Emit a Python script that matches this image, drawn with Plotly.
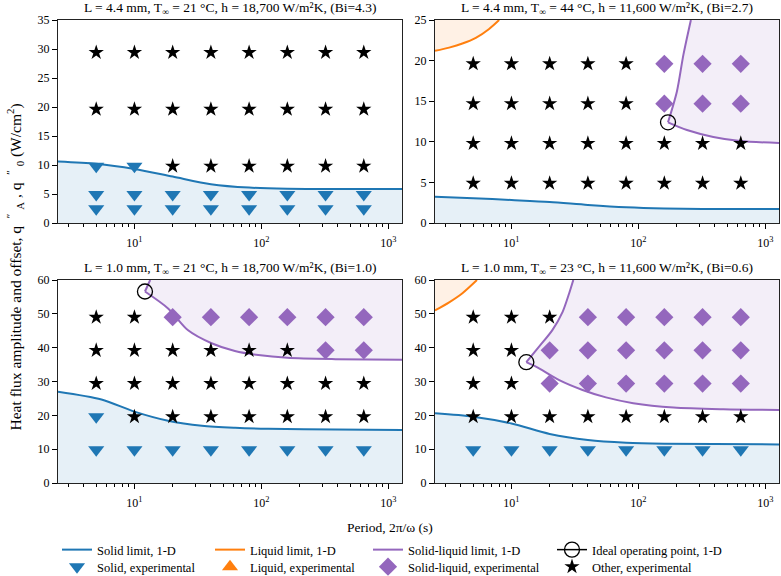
import math
import plotly.graph_objects as go

# ---------------- data ----------------
periods = [5, 10, 20, 40, 80, 160, 320, 640]

titles = [
    "L = 4.4 mm, T<sub>∞</sub> = 21 °C, h = 18,700 W/m²K, (Bi=4.3)",
    "L = 4.4 mm, T<sub>∞</sub> = 44 °C, h = 11,600 W/m²K, (Bi=2.7)",
    "L = 1.0 mm, T<sub>∞</sub> = 21 °C, h = 18,700 W/m²K, (Bi=1.0)",
    "L = 1.0 mm, T<sub>∞</sub> = 23 °C, h = 11,600 W/m²K, (Bi=0.6)",
]

# experimental states: S solid, L liquid, M solid-liquid, O other
A_levels = [2.45, 4.9, 9.8, 19.6, 29.4]
A_states = ["SSSSSSSS", "SSSSSSSS", "SSOOOOOO", "OOOOOOOO", "OOOOOOOO"]
B_levels = [4.9, 9.8, 14.7, 19.6]
B_states = ["OOOOOOOO", "OOOOOOOO", "OOOOOMMM", "OOOOOMMM"]
C_levels = [9.8, 19.6, 29.4, 39.2, 49.0]
C_states = ["SSSSSSSS", "SOOOOOOO", "OOOOOOOO", "OOOOOOMM", "OOMMMMMM"]
D_levels = [9.8, 19.6, 29.4, 39.2, 49.0]
D_states = ["SSSSSSSS", "OOOOOOOO", "OOMMMMMM", "OOMMMMMM", "OOOMMMMM"]

# solid limit curves
A_solid_x = [2.5, 5, 10, 20, 40, 80, 160, 320, 640, 1280]
A_solid_y = [10.6, 10.2, 9.3, 8.0, 6.7, 6.1, 5.9, 5.85, 5.85, 5.85]
B_solid_x = [2.5, 5, 10, 20, 40, 80, 160, 320, 640, 1280]
B_solid_y = [3.24, 3.05, 2.83, 2.59, 2.22, 1.93, 1.78, 1.73, 1.72, 1.72]
C_solid_x = [2.5, 5.5, 10, 18.4, 34, 62, 113, 383, 1280]
C_solid_y = [27.0, 24.7, 21.1, 18.4, 16.9, 16.3, 16.0, 15.8, 15.7]
D_solid_x = [2.5, 5, 10, 20, 40, 80, 160, 1280]
D_solid_y = [20.6, 19.6, 17.6, 14.5, 12.7, 11.9, 11.6, 11.4]

# liquid limit curves
B_liq_x = [2.5, 3.23, 4.11, 5.24, 6.67, 8.0]
B_liq_y = [21.2, 21.6, 22.1, 22.8, 23.9, 25.0]
D_liq_x = [2.5, 3.23, 4.11, 5.35]
D_liq_y = [51.0, 53.4, 56.1, 60.0]

# solid-liquid limit curves (upper and lower branch from the ideal point)
B_slu_x = [171, 201, 226, 259]
B_slu_y = [12.4, 16.2, 20.7, 25.0]
B_sll_x = [171, 241, 389, 633, 1280]
B_sll_y = [12.4, 11.45, 10.6, 10.1, 9.85]
C_slu_x = [12.1, 13.3]
C_slu_y = [56.6, 60.0]
C_sll_x = [12.1, 18.4, 26.3, 40.5, 61.8, 94.4, 160, 383, 1280]
C_sll_y = [56.6, 51.6, 45.2, 41.3, 39.0, 37.8, 37.0, 36.6, 36.4]
D_slu_x = [13.1, 16.5, 21.0, 25.3, 28.5, 30.7]
D_slu_y = [35.7, 40.3, 45.2, 50.6, 56.1, 60.0]
D_sll_x = [13.1, 16.5, 23.8, 36.3, 55.5, 91, 189, 467, 1280]
D_sll_y = [35.7, 33.9, 30.4, 27.5, 25.3, 23.6, 22.3, 21.8, 21.6]

# ideal operating points
ideal_B = (171, 12.4)
ideal_C = (12.1, 56.6)
ideal_D = (13.1, 35.7)

y_max = [35, 25, 60, 60]
y_dtick = [5, 5, 10, 10]
x_lo, x_hi = 2.5, 1280

# ---------------- styles ----------------
BLUE, ORANGE, PURPLE = "#1f77b4", "#ff7f0e", "#9467bd"
BLUE_F = "rgba(31,119,180,0.11)"
ORANGE_F = "rgba(255,127,14,0.11)"
PURPLE_F = "rgba(148,103,189,0.11)"
FONT = "Liberation Serif"

fig = go.Figure()
axes = [("x", "y"), ("x2", "y2"), ("x3", "y3"), ("x4", "y4")]
shown = set()


def leg(name):
    if name in shown:
        return False
    shown.add(name)
    return True


# one legend per entry, laid out as 4 columns x 2 rows
leg_order = ["Solid limit, 1-D", "Liquid limit, 1-D", "Solid-liquid limit, 1-D",
             "Ideal operating point, 1-D", "Solid, experimental", "Liquid, experimental",
             "Solid-liquid, experimental", "Other, experimental"]
legid = {n: ("legend" if k == 0 else f"legend{k+1}") for k, n in enumerate(leg_order)}


def add_fill(xs, ys, color, ax):
    fig.add_trace(go.Scatter(x=xs, y=ys, mode="lines", fill="toself", fillcolor=color,
                             line=dict(width=0), showlegend=False, hoverinfo="skip",
                             xaxis=ax[0], yaxis=ax[1]))


def add_line(xs, ys, color, name, ax):
    fig.add_trace(go.Scatter(x=xs, y=ys, mode="lines", name=name,
                             line=dict(color=color, width=2, shape="spline", smoothing=0.8),
                             showlegend=leg(name), legendgroup=name, legend=legid[name],
                             xaxis=ax[0], yaxis=ax[1]))


panels = [
    dict(levels=A_levels, states=A_states, sx=A_solid_x, sy=A_solid_y),
    dict(levels=B_levels, states=B_states, sx=B_solid_x, sy=B_solid_y,
         lx=B_liq_x, ly=B_liq_y, ux=B_slu_x, uy=B_slu_y, wx=B_sll_x, wy=B_sll_y, ideal=ideal_B),
    dict(levels=C_levels, states=C_states, sx=C_solid_x, sy=C_solid_y,
         ux=C_slu_x, uy=C_slu_y, wx=C_sll_x, wy=C_sll_y, ideal=ideal_C),
    dict(levels=D_levels, states=D_states, sx=D_solid_x, sy=D_solid_y,
         lx=D_liq_x, ly=D_liq_y, ux=D_slu_x, uy=D_slu_y, wx=D_sll_x, wy=D_sll_y, ideal=ideal_D),
]

for i, p in enumerate(panels):
    ax = axes[i]
    top = y_max[i]
    # fills
    fig.add_trace(go.Scatter(x=p["sx"], y=p["sy"], mode="lines", fill="tozeroy",
                             fillcolor=BLUE_F, line=dict(width=0, shape="spline", smoothing=0.8),
                             showlegend=False, hoverinfo="skip", xaxis=ax[0], yaxis=ax[1]))
    if "lx" in p:
        add_fill(p["lx"] + [x_lo], p["ly"] + [top], ORANGE_F, ax)
    if "ux" in p:
        fx = p["ux"][::-1] + p["wx"][1:] + [x_hi]
        fy = p["uy"][::-1] + p["wy"][1:] + [top]
        add_fill(fx, fy, PURPLE_F, ax)
    # lines
    add_line(p["sx"], p["sy"], BLUE, "Solid limit, 1-D", ax)
    if "lx" in p:
        add_line(p["lx"], p["ly"], ORANGE, "Liquid limit, 1-D", ax)
    if "ux" in p:
        add_line(p["ux"], p["uy"], PURPLE, "Solid-liquid limit, 1-D", ax)
        add_line(p["wx"], p["wy"], PURPLE, "Solid-liquid limit, 1-D", ax)
    # markers
    pts = {"S": ([], []), "L": ([], []), "M": ([], []), "O": ([], [])}
    for lev, row in zip(p["levels"], p["states"]):
        for per, s in zip(periods, row):
            pts[s][0].append(per)
            pts[s][1].append(lev)
    spec = [("S", "Solid, experimental", "triangle-down", BLUE, 14),
            ("L", "Liquid, experimental", "triangle-up", ORANGE, 14),
            ("M", "Solid-liquid, experimental", "diamond", PURPLE, 14),
            ("O", "Other, experimental", "star", "black", 11.5)]
    for code, name, sym, col, sz in spec:
        xs, ys = pts[code]
        if not xs and name in shown:
            continue
        if not xs:
            xs, ys = [None], [None]
        fig.add_trace(go.Scatter(x=xs, y=ys, mode="markers", name=name,
                                 marker=dict(symbol=sym, color=col, size=sz, line=dict(width=0)),
                                 showlegend=leg(name), legendgroup=name, legend=legid[name],
                                 xaxis=ax[0], yaxis=ax[1]))
    if "ideal" in p:
        name = "Ideal operating point, 1-D"
        fig.add_trace(go.Scatter(x=[p["ideal"][0]], y=[p["ideal"][1]], mode="lines+markers",
                                 name=name, line=dict(color="black", width=1.5),
                                 marker=dict(symbol="circle-open", color="black", size=15,
                                             line=dict(width=1.3, color="black")),
                                 showlegend=leg(name), legendgroup=name, legend=legid[name],
                                 xaxis=ax[0], yaxis=ax[1]))

# ---------------- layout ----------------
W, H = 781, 576
ml, mr, mt, mb = 58, 2, 20, 93
pw, ph = W - ml - mr, H - mt - mb
xdom = [[0, 344 / pw], [(435 - ml) / pw, 1.0]]
ydom = [[(483 - 223) / ph, 1.0], [0, (483 - 280) / ph]]

xr = [math.log10(x_lo), math.log10(x_hi)]
minor_vals = [v * m for m in (1, 10, 100) for v in range(2, 10) if x_lo <= v * m <= x_hi]

layout = dict(width=W, height=H, margin=dict(l=ml, r=mr, t=mt, b=mb, autoexpand=False),
              plot_bgcolor="white", paper_bgcolor="white",
              font=dict(family=FONT, size=12, color="black"),
              showlegend=True)
leg_left = [57, 210, 368, 552]
leg_top = [535, 552]
for k, n in enumerate(leg_order):
    r, c = divmod(k, 4)
    layout[legid[n]] = dict(orientation="v", xref="container", yref="container",
                            x=leg_left[c] / W, xanchor="left",
                            y=1 - leg_top[r] / H, yanchor="top", itemwidth=30,
                            font=dict(size=12.5, family=FONT), bgcolor="rgba(0,0,0,0)")

annotations = []
for i in range(4):
    r, c = divmod(i, 2)
    xa = "xaxis" if i == 0 else f"xaxis{i+1}"
    ya = "yaxis" if i == 0 else f"yaxis{i+1}"
    anchor_x = "y" if i == 0 else f"y{i+1}"
    anchor_y = "x" if i == 0 else f"x{i+1}"
    layout[xa] = dict(type="log", range=xr, domain=xdom[c], anchor=anchor_x,
                      tickvals=[10, 100, 1000],
                      ticktext=["10<sup>1</sup>", "10<sup>2</sup>", "10<sup>3</sup>"],
                      ticks="outside", ticklen=5, tickcolor="black", tickwidth=1,
                      ticklabelstandoff=4,
                      showline=True, linecolor="#222", linewidth=1, mirror=True,
                      showgrid=False, zeroline=False,
                      minor=dict(tickvals=minor_vals, ticks="outside", ticklen=3,
                                 tickcolor="black", tickwidth=0.8, showgrid=False),
                      tickfont=dict(size=12, family=FONT))
    layout[ya] = dict(range=[0, y_max[i]], dtick=y_dtick[i], domain=ydom[r], anchor=anchor_y,
                      ticks="outside", ticklen=5, tickcolor="black", tickwidth=1,
                      showline=True, linecolor="#222", linewidth=1, mirror=True,
                      showgrid=False, zeroline=False, tickfont=dict(size=12, family=FONT))
    annotations.append(dict(text=titles[i], xref="paper", yref="paper",
                            x=sum(xdom[c]) / 2, y=ydom[r][1], xanchor="center", yanchor="bottom",
                            yshift=1, showarrow=False, font=dict(size=13.5, family=FONT)))

annotations.append(dict(text="Period, 2π/ω (s)", xref="paper", yref="paper",
                        x=(390 - ml) / pw, y=0, yshift=-44, xanchor="center", yanchor="middle",
                        showarrow=False, font=dict(size=13.5, family=FONT)))
annotations.append(dict(text="Heat flux amplitude and offset, q&nbsp;&nbsp;<sup>″</sup>&nbsp;<sub>A</sub>&nbsp;, q&nbsp;&nbsp;<sup>″</sup>&nbsp;<sub>0</sub>&nbsp;(W/cm<sup>2</sup>)",
                        xref="paper", yref="paper", x=(15 - ml) / pw, y=0.5, yshift=-16,
                        xanchor="center", yanchor="middle", textangle=-90,
                        showarrow=False, font=dict(size=15.5, family=FONT)))
layout["annotations"] = annotations
fig.update_layout(**layout)

fig.write_html("out.html", config={"displayModeBar": False},
               post_script="document.body.style.margin='0';document.body.style.overflow='hidden';")
